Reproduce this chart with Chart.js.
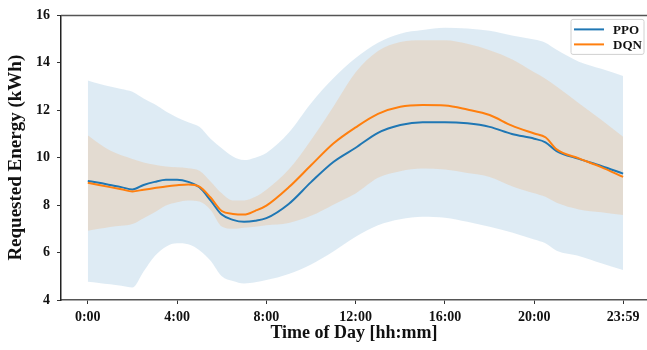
<!DOCTYPE html>
<html>
<head>
<meta charset="utf-8">
<script src="https://cdn.jsdelivr.net/npm/chart.js@4"></script>
<style>
  body { margin: 0; background: #fff; }
  #wrap { width: 647px; height: 350px; }
</style>
</head>
<body>
<div id="wrap"><canvas id="graphCanvas"></canvas></div>
<script>
// time of day in hours (23.98 = 23:59)
const hours = [0, 0.5, 1, 1.5, 2, 2.5, 3, 3.5, 4, 4.5, 5, 5.5, 6, 6.5, 7, 7.5, 8,
  9, 10, 11, 12, 13, 14, 15, 16, 17, 18, 19, 20, 20.5, 21, 22, 23, 23.98];

const ppoMean = [9.02, 8.94, 8.85, 8.76, 8.66, 8.85, 8.98, 9.07, 9.07, 8.98, 8.75, 8.2, 7.6, 7.38, 7.3, 7.34, 7.45,
  8.05, 8.97, 9.82, 10.42, 11.05, 11.38, 11.5, 11.5, 11.45, 11.3, 11.0, 10.8, 10.65, 10.28, 9.95, 9.65, 9.33];
const ppoUpper = [13.26, 13.12, 13.0, 12.9, 12.78, 12.5, 12.25, 11.95, 11.7, 11.5, 11.3, 10.8, 10.4, 10.05, 9.9, 10.0, 10.2,
  11.05, 12.3, 13.35, 14.2, 14.85, 15.23, 15.38, 15.48, 15.45, 15.35, 15.15, 14.98, 14.85, 14.55, 14.05, 13.75, 13.45];
const ppoLower = [4.77, 4.72, 4.66, 4.6, 4.53, 5.2, 5.85, 6.25, 6.39, 6.35, 6.1, 5.65, 5.0, 4.8, 4.7, 4.75, 4.84,
  5.1, 5.5, 6.05, 6.67, 7.15, 7.4, 7.51, 7.47, 7.3, 7.09, 6.85, 6.55, 6.39, 6.08, 5.86, 5.55, 5.26];

const dqnMean = [8.94, 8.85, 8.76, 8.67, 8.58, 8.65, 8.72, 8.79, 8.84, 8.87, 8.78, 8.32, 7.75, 7.63, 7.6, 7.76, 7.98,
  8.75, 9.68, 10.6, 11.28, 11.85, 12.15, 12.22, 12.2, 12.03, 11.8, 11.35, 11.02, 10.86, 10.35, 9.97, 9.6, 9.19];
const dqnUpper = [10.95, 10.6, 10.3, 10.1, 9.95, 9.8, 9.7, 9.63, 9.6, 9.56, 9.45, 9.0, 8.5, 8.2, 8.2, 8.35, 8.65,
  9.5, 10.75, 12.15, 13.6, 14.5, 14.88, 14.95, 14.95, 14.8, 14.53, 14.15, 13.6, 13.33, 13.0, 12.3, 11.6, 10.88];
const dqnLower = [6.92, 7.0, 7.08, 7.13, 7.2, 7.45, 7.7, 7.98, 8.12, 8.2, 8.15, 7.8, 7.1, 7.0, 7.05, 7.09, 7.15,
  7.25, 7.55, 8.02, 8.49, 9.15, 9.43, 9.54, 9.5, 9.35, 9.19, 8.8, 8.5, 8.35, 8.1, 7.82, 7.7, 7.58];

const tickHours = [0, 4, 8, 12, 16, 20, 23.98];
const tickLabels = ["0:00", "4:00", "8:00", "12:00", "16:00", "20:00", "23:59"];

const seriesNames = ["PPO", "DQN"];
const seriesColors = ["#1f77b4", "#ff7f0e"];
const bandColors = ["rgba(31, 119, 180, 0.15)", "rgba(255, 127, 14, 0.15)"];

const serif = "'Liberation Serif', 'Times New Roman', serif";

function pts(arr) {
  return hours.map((h, i) => ({ x: h, y: arr[i] }));
}

function band(arr, color, order, fill) {
  return {
    data: pts(arr),
    borderWidth: 0,
    pointRadius: 0,
    backgroundColor: color,
    fill: fill,
    order: order,
    cubicInterpolationMode: "monotone",
  };
}

// top spine and legend box like the original figure
const framePlugin = {
  id: "framePlugin",
  afterDraw(chart) {
    const { ctx, chartArea } = chart;
    ctx.save();
    ctx.strokeStyle = "#555";
    ctx.lineWidth = 1.5;
    ctx.beginPath();
    ctx.moveTo(chartArea.left, chartArea.top);
    ctx.lineTo(chartArea.right, chartArea.top);
    ctx.stroke();

    // legend
    const bx = chartArea.right - 76, by = chartArea.top + 4, bw = 73, bh = 35;
    ctx.fillStyle = "rgba(255,255,255,0.85)";
    ctx.strokeStyle = "#d0d0d0";
    ctx.lineWidth = 1;
    ctx.beginPath();
    ctx.roundRect(bx, by, bw, bh, 2);
    ctx.fill();
    ctx.stroke();
    ctx.font = "bold 13px " + serif;
    ctx.textBaseline = "middle";
    ctx.textAlign = "left";
    for (let i = 0; i < seriesNames.length; i++) {
      const y = by + 10 + i * 15;
      ctx.strokeStyle = seriesColors[i];
      ctx.lineWidth = 2;
      ctx.beginPath();
      ctx.moveTo(bx + 3, y);
      ctx.lineTo(bx + 33, y);
      ctx.stroke();
      ctx.fillStyle = "#111";
      ctx.fillText(seriesNames[i], bx + 42, y + 1);
    }
    ctx.restore();
  },
};

const ctx = document.getElementById("graphCanvas").getContext("2d");
new Chart(ctx, {
  type: "line",
  data: {
    datasets: [
      {
        label: seriesNames[1],
        data: pts(dqnMean),
        borderColor: seriesColors[1],
        borderWidth: 2,
        pointRadius: 0,
        fill: false,
        order: 0,
        cubicInterpolationMode: "monotone",
      },
      {
        label: seriesNames[0],
        data: pts(ppoMean),
        borderColor: seriesColors[0],
        borderWidth: 2,
        pointRadius: 0,
        fill: false,
        order: 1,
        cubicInterpolationMode: "monotone",
      },
      band(dqnUpper, bandColors[1], 2, "+1"),
      band(dqnLower, "rgba(0,0,0,0)", 2, false),
      band(ppoUpper, bandColors[0], 3, "+1"),
      band(ppoLower, "rgba(0,0,0,0)", 3, false),
    ],
  },
  options: {
    responsive: true,
    maintainAspectRatio: false,
    animation: false,
    layout: { padding: { top: 15, right: 0, left: 0, bottom: 0 } },
    plugins: {
      legend: { display: false },
      tooltip: { enabled: false },
    },
    scales: {
      x: {
        type: "linear",
        min: -1.2,
        max: 25.05,
        afterFit: (s) => { s.height = 50; },
        afterBuildTicks: (s) => { s.ticks = tickHours.map((v) => ({ value: v })); },
        grid: { drawOnChartArea: false, drawTicks: true, tickLength: 4, color: "#333", lineWidth: 1 },
        border: { display: true, color: "#555", width: 1.5 },
        ticks: {
          color: "#111",
          padding: 5,
          maxRotation: 0,
          autoSkip: false,
          font: { family: serif, size: 14, weight: "bold" },
          callback: (v) => {
            const i = tickHours.indexOf(v);
            return i >= 0 ? tickLabels[i] : "";
          },
        },
        title: {
          display: true,
          text: "Time of Day [hh:mm]",
          color: "#111",
          font: { family: serif, size: 18, weight: "bold" },
          padding: { top: 0, bottom: 6 },
        },
      },
      y: {
        min: 4,
        max: 16,
        afterFit: (s) => { s.width = 61; },
        grid: { drawOnChartArea: false, drawTicks: true, tickLength: 4, color: "#333", lineWidth: 1 },
        border: { display: true, color: "#222", width: 1.5 },
        ticks: {
          stepSize: 2,
          color: "#111",
          padding: 7,
          font: { family: serif, size: 14, weight: "bold" },
        },
        title: {
          display: true,
          text: "Requested Energy (kWh)",
          color: "#111",
          font: { family: serif, size: 19, weight: "bold" },
          padding: { top: 5, bottom: 0 },
        },
      },
    },
  },
  plugins: [framePlugin],
});
</script>
</body>
</html>
